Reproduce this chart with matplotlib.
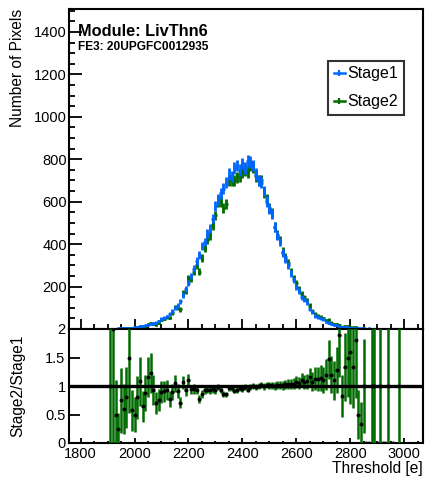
import numpy as np
import matplotlib
matplotlib.use("Agg")
import matplotlib.pyplot as plt
from matplotlib.lines import Line2D
from matplotlib.ticker import MultipleLocator

# threshold histogram, 10 e bins starting at 1905 e
bin_start = 1905
bin_width = 10
stage1 = [
    1, 1, 2, 4, 4, 5, 5, 4, 7, 8,
    10, 12, 14, 17, 20, 22, 26, 30, 37, 48, 52,
    60, 70, 85, 100, 110, 130, 160, 190, 215, 250,
    285, 320, 350, 390, 410, 450, 475, 520, 580, 610,
    640, 660, 690, 730, 720, 760, 770, 750, 780, 760, 790,
    785, 770, 730, 700, 690, 650, 600, 565, 540, 480,
    440, 410, 360, 330, 300, 260, 230, 200, 180, 150,
    140, 125, 95, 80, 62, 55, 50, 45, 35, 30, 25,
    20, 18, 10, 11, 9, 8, 5, 6, 5, 4,
    3, 3, 2, 3, 2, 1, 2, 1, 1, 1,
    1, 0, 1, 0, 1, 0, 0, 0, 0, 0, 0,
]
stage2 = [
    1, 2, 1, 1, 3, 3, 4, 6, 4, 4,
    8, 13, 9, 15, 23, 27, 24, 21, 28, 43, 47,
    56, 54, 76, 105, 100, 92, 170, 176, 238, 235,
    270, 300, 270, 335, 380, 420, 440, 490, 535, 600,
    600, 570, 590, 700, 700, 700, 715, 720, 740, 750, 740,
    770, 765, 720, 700, 700, 645, 610, 570, 545, 480,
    445, 420, 365, 340, 310, 270, 240, 215, 190, 165,
    150, 135, 110, 86, 70, 62, 57, 50, 42, 44, 30,
    22, 23, 19, 9, 12, 12, 8, 8, 9, 2,
    1, 3, 0, 0, 2, 1, 0, 1, 0, 0,
    1, 1, 0, 0, 1, 0, 0, 0, 0, 0, 0,
]
module_text = "Module: LivThn6"
fe_text = "FE3: 20UPGFC0012935"

blue = "#0066ff"
green = "#006b00"

plt.rcParams["font.family"] = ["Liberation Sans", "DejaVu Sans"]

s1 = np.array(stage1, dtype=float)
s2 = np.array(stage2, dtype=float)
centers = bin_start + bin_width * (np.arange(len(s1)) + 0.5)

fig = plt.figure(figsize=(4.27, 4.79), dpi=100)
W, H = 427.0, 479.0
ax = fig.add_axes([69 / W, 1 - 329 / H, 354 / W, 320 / H])
axr = fig.add_axes([69 / W, 1 - 443 / H, 354 / W, 114 / H], sharex=ax)


def draw_hist(a, counts, color, z):
    m = counts > 0
    a.errorbar(centers[m], counts[m], yerr=np.sqrt(counts[m]), xerr=bin_width / 2,
               fmt="none", ecolor=color, elinewidth=2.0, capsize=0, zorder=z)


draw_hist(ax, s2, green, 2)
draw_hist(ax, s1, blue, 3)

ax.set_xlim(1757, 3070)
ax.set_ylim(0, 1508)
ax.xaxis.set_major_locator(MultipleLocator(200))
ax.xaxis.set_minor_locator(MultipleLocator(50))
ax.set_yticks(np.arange(200, 1401, 200))
ax.yaxis.set_minor_locator(MultipleLocator(50))
ax.tick_params(axis="x", which="both", direction="in", bottom=True, top=False, labelbottom=False)
ax.tick_params(axis="x", which="major", length=7, width=1.3)
ax.tick_params(axis="x", which="minor", length=3.5, width=1.3)
ax.tick_params(axis="y", which="both", direction="in", left=True, right=False, labelsize=10.5, pad=1.5)
ax.tick_params(axis="y", which="major", length=9, width=1.3)
ax.tick_params(axis="y", which="minor", length=4.5, width=1.3)
for sp in ax.spines.values():
    sp.set_linewidth(1.5)
ax.set_ylabel("Number of Pixels", fontsize=11.2, loc="top")

ax.text(0.025, 0.916, module_text, transform=ax.transAxes, fontsize=11.8,
        fontweight="bold", va="baseline", ha="left")
ax.text(0.025, 0.873, fe_text, transform=ax.transAxes, fontsize=8.6,
        fontweight="bold", va="baseline", ha="left")

handles = [
    Line2D([], [], color=blue, lw=1.8, marker="|", markersize=5, markeredgewidth=1.6),
    Line2D([], [], color=green, lw=1.8, marker="|", markersize=5, markeredgewidth=1.6),
]
leg = ax.legend(handles, ["Stage1", "Stage2"], loc="upper left",
                bbox_to_anchor=(0.732, 0.838), fontsize=11.5, frameon=True,
                fancybox=False, edgecolor="black", handlelength=0.7,
                handletextpad=0.15, borderpad=0.35, labelspacing=0.8,
                borderaxespad=0)
leg.get_frame().set_linewidth(1.5)

# ratio panel
m = (s1 > 0) & (s2 > 0)
ratio = np.zeros_like(s1)
rerr = np.zeros_like(s1)
ratio[m] = s2[m] / s1[m]
rerr[m] = ratio[m] * np.sqrt(1 / s1[m] + 1 / s2[m])
shown = s1 > 0
axr.errorbar(centers[shown], ratio[shown], yerr=rerr[shown], xerr=bin_width / 2,
             fmt="o", color="black", markersize=1.8, ecolor=green,
             elinewidth=1.8, capsize=0, zorder=3)
axr.axhline(1, color="black", lw=2.4, zorder=4)
axr.set_ylim(0, 2)
axr.set_yticks([0, 0.5, 1, 1.5, 2])
axr.set_yticklabels(["0", "0.5", "1", "1.5", "2"])
axr.tick_params(axis="y", which="both", direction="in", left=True, right=False,
                labelsize=10.5, length=8, width=1.3, pad=2.5)
axr.tick_params(axis="x", which="both", direction="in", bottom=True, top=False,
                labelsize=10.5, width=1.3, pad=3)
axr.tick_params(axis="x", which="major", length=3.5)
axr.tick_params(axis="x", which="minor", length=1.8)
for sp in axr.spines.values():
    sp.set_linewidth(1.5)
axr.set_ylabel("Stage2/Stage1", fontsize=11.2)
axr.set_xlabel("Threshold [e]", fontsize=11.2, loc="right", labelpad=0)

ax.yaxis.set_label_coords(-0.124, 1.0)
axr.yaxis.set_label_coords(-0.124, 0.5)

fig.savefig("out.png", dpi=100)
